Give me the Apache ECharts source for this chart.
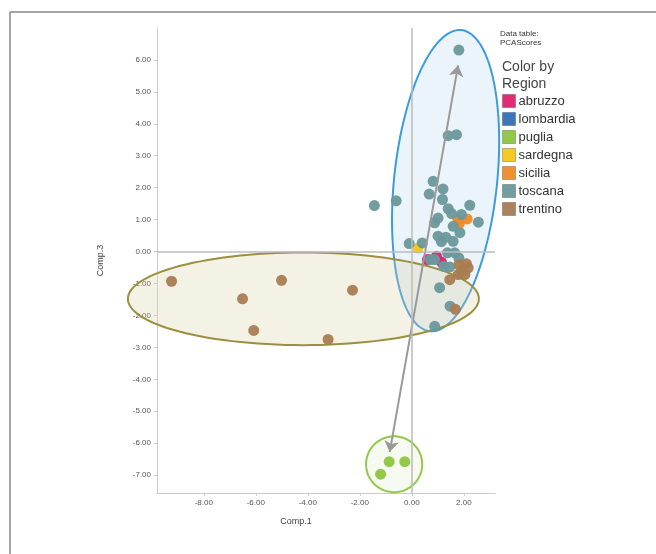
<!DOCTYPE html>
<html><head><meta charset="utf-8">
<script src="https://cdn.jsdelivr.net/npm/echarts@6/dist/echarts.min.js"></script>
<style>html,body{margin:0;padding:0;background:#fff}#c{width:656px;height:554px}</style>
</head><body><div id="c"></div>
<script>
const regions = ['abruzzo','lombardia','puglia','sardegna','sicilia','toscana','trentino'];
const regionColors = ['#e0206e','#2f6fb5','#8dc63f','#f5c518','#f08a24','#6a989c','#a97c52'];
const xTicks = [-8,-6,-4,-2,0,2];
const yTicks = [-7,-6,-5,-4,-3,-2,-1,0,1,2,3,4,5,6];

const abruzzo = [[0.60,-0.25],[0.95,-0.15],[1.14,-0.33]];
const lombardia = [];
const puglia = [[-0.87,-6.58],[-0.27,-6.58],[-1.20,-6.97]];
const sardegna = [[0.24,0.11]];
const sicilia = [[1.77,1.00],[2.13,1.02],[1.83,0.88]];
const toscana = [[1.81,6.31],[1.40,3.63],[1.72,3.66],[-1.44,1.44],[-0.60,1.59],[0.82,2.20],[0.67,1.80],
  [1.20,1.96],[1.18,1.63],[2.23,1.45],[1.40,1.34],[1.53,1.19],[1.91,1.16],[1.01,1.05],[0.88,0.90],
  [2.56,0.92],[1.59,0.79],[1.85,0.59],[1.01,0.48],[1.31,0.45],[1.59,0.32],[1.14,0.31],[-0.10,0.25],
  [0.40,0.27],[1.37,-0.04],[1.65,-0.04],[1.81,-0.20],[0.71,-0.25],[0.88,-0.25],[1.23,-0.46],
  [1.46,-0.48],[1.07,-1.13],[1.47,-1.71],[0.88,-2.34]];
const trentino = [[1.81,-0.41],[2.10,-0.38],[1.91,-0.62],[2.04,-0.72],[1.78,-0.72],[2.17,-0.51],
  [1.46,-0.88],[1.68,-1.81],[-9.24,-0.93],[-6.51,-1.48],[-6.08,-2.47],[-5.01,-0.90],[-2.28,-1.21],[-3.22,-2.75]];
const regionData = {abruzzo, lombardia, puglia, sardegna, sicilia, toscana, trentino};

// annotation ellipses: [centerX, centerY, radiusX, radiusY, tiltDeg]
const ellipses = [[1.30,2.22,1.98,4.74,6],[-4.17,-1.48,6.75,1.45,0],[-0.68,-6.66,1.08,0.875,0]];
const ellipseStroke = ['#3d9be0','#9c903e','#92c94a'];
const ellipseFill = ['rgba(170,205,235,0.22)','rgba(215,205,160,0.28)','rgba(205,230,170,0.18)'];
const arrowEnds = [[-0.85,-6.28],[1.78,5.83]];

const chart = echarts.init(document.getElementById('c'), null, {renderer:'canvas'});
const font = 'Liberation Sans, Arial, sans-serif';
const drawOrder = ['puglia','sardegna','abruzzo','sicilia','toscana','trentino','lombardia'];

const series = [{
  type:'custom', name:'ellipses', silent:true, clip:false, z:1,
  data: ellipses.map((e,i)=>({value:e, idx:i})),
  renderItem:function(params, api){
    const i = params.dataIndex;
    const e = ellipses[i];
    const c = api.coord([e[0],e[1]]);
    const s = api.size([e[2],e[3]]);
    const th = e[4]*Math.PI/180;
    const pts = [];
    for(let k=0;k<120;k++){
      const t = k/120*Math.PI*2;
      const x = s[0]*Math.cos(t), y = s[1]*Math.sin(t);
      pts.push([c[0]+x*Math.cos(th)-y*Math.sin(th), c[1]+x*Math.sin(th)+y*Math.cos(th)]);
    }
    return {type:'polygon', shape:{points:pts}, style:{fill:ellipseFill[i], stroke:ellipseStroke[i], lineWidth:2}};
  },
  encode:{x:0,y:1}
}];
drawOrder.forEach(r=>{
  const i = regions.indexOf(r);
  series.push({
    type:'scatter', name:r, data:regionData[r], symbolSize:11, z:3,
    itemStyle:{color:regionColors[i], opacity:0.95}
  });
});
series.push({
  type:'lines', coordinateSystem:'cartesian2d', silent:true, z:4,
  symbol:['arrow','arrow'], symbolSize:11,
  lineStyle:{color:'#999',width:2,opacity:1},
  data:[{coords:arrowEnds}]
});
series.push({
  type:'scatter', name:'zero', data:[], silent:true, z:2,
  markLine:{silent:true, symbol:'none', label:{show:false},
    lineStyle:{color:'#bbb', type:'solid', width:1.5},
    data:[{xAxis:0},{yAxis:0}]}
});

chart.setOption({
  backgroundColor:'#fff',
  animation:false,
  textStyle:{fontFamily:font},
  grid:{left:157, top:28, width:338, height:465, containLabel:false},
  xAxis:{type:'value', min:-9.8, max:3.2, name:'Comp.1', nameLocation:'middle', nameGap:24,
    nameTextStyle:{fontSize:9, color:'#444', padding:[0,60,0,0]},
    axisLine:{show:true, onZero:false, lineStyle:{color:'#ccc'}},
    axisTick:{show:true, length:3, lineStyle:{color:'#ccc'}, customValues:xTicks},
    axisLabel:{fontSize:8, color:'#555', margin:6, customValues:xTicks, formatter:v=>v.toFixed(2)},
    splitLine:{show:false}},
  yAxis:{type:'value', min:-7.56, max:7.0, name:'Comp.3', nameLocation:'middle', nameGap:52,
    nameTextStyle:{fontSize:9, color:'#444'},
    axisLine:{show:true, onZero:false, lineStyle:{color:'#ccc'}},
    axisTick:{show:true, length:3, lineStyle:{color:'#ccc'}, customValues:yTicks},
    axisLabel:{fontSize:8, color:'#555', margin:6, customValues:yTicks, formatter:v=>v.toFixed(2)},
    splitLine:{show:false}},
  legend:{orient:'vertical', left:502, top:94, itemWidth:13, itemHeight:13, itemGap:4,
    icon:'rect', data:regions, padding:0,
    textStyle:{fontSize:13, color:'#333', fontFamily:font, padding:[0,0,0,-2]},
    itemStyle:{borderColor:'rgba(0,0,0,0.25)', borderWidth:1}},
  color:regionColors,
  graphic:[
    {type:'line', shape:{x1:10,y1:12,x2:10,y2:554}, style:{stroke:'#888', lineWidth:1.5}},
    {type:'line', shape:{x1:10,y1:12,x2:656,y2:12}, style:{stroke:'#888', lineWidth:1.5}},
    {type:'text', left:500, top:29, style:{text:'Data table:\nPCAScores', fontSize:8, lineHeight:9, fill:'#333', fontFamily:font}},
    {type:'text', left:502, top:59, style:{text:'Color by\nRegion', fontSize:14, lineHeight:17, fill:'#444', fontFamily:font}}
  ],
  series:series
});
</script></body></html>
